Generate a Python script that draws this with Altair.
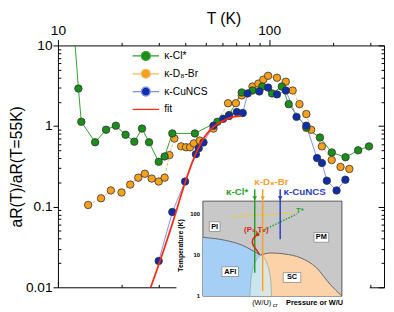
import altair as alt
import pandas as pd

FONT = "Liberation Sans"

# ---------------- main data: T (K) and a_R(T)/a_R(55K) ----------------
cl_T = [12.0, 12.5, 12.9, 15.0, 16.9, 18.8, 20.9, 23.0, 25.0, 27.0, 30.0, 32.0, 34.8, 44.5,
        56.9, 64.6, 74.2, 83.4, 92.8, 103.2, 114.8, 123.8, 150, 174, 198, 230, 264, 297]
cl_v = [12, 2.92, 1.13, 0.63, 0.90, 1.01, 0.78, 0.64, 0.93, 0.63, 0.36, 0.42, 0.81, 0.81,
        1.13, 1.37, 2.61, 2.76, 3.09, 2.54, 3.09, 1.87, 0.95, 0.72, 0.47, 0.41, 0.50, 0.56]

br_T = [13.9, 16.0, 17.8, 20.0, 22.0, 24.0, 25.8, 27.8, 30.0, 32.0, 33.7, 35.6, 38.3, 40.4,
        42.2, 44.0, 46.9, 54.5, 63.9, 69.6, 74.2, 83.4, 88.9, 93.8, 98.9, 108.9, 119.9,
        129.2, 139.2, 150, 158.1, 177.8, 197.8, 217.8, 239.8]
br_v = [0.105, 0.127, 0.159, 0.150, 0.188, 0.229, 0.256, 0.223, 0.205, 0.229, 0.436, 0.70,
        0.56, 0.545, 0.545, 0.61, 0.66, 0.93, 1.92, 1.92, 2.40, 3.09, 3.36, 3.76, 4.20, 3.97,
        3.55, 2.76, 1.87, 1.41, 0.90, 0.56, 0.379, 0.311, 0.294]

cu_T = [30.0, 34.8, 40.0, 45.0, 46.4, 48.9, 54.5, 60.6, 64.6, 70.3, 75.0, 79.1, 89.9, 98.9,
        108.9, 119.9, 134.8, 150, 168.6, 177.8, 187.6, 208.6, 229.6]
cu_v = [0.0212, 0.0859, 0.205, 0.448, 0.53, 0.627, 1.01, 1.23, 1.33, 1.49, 1.45, 2.54, 2.69,
        3.00, 2.47, 2.76, 1.30, 1.01, 0.401, 0.348, 0.210, 0.159, 0.216]

fit_T = [27.5, 31.0, 34.8, 39.6, 43.1, 46.4, 50.0, 54.5, 60.6, 67.4, 74.2]
fit_v = [0.01, 0.0244, 0.0615, 0.183, 0.348, 0.545, 0.762, 0.981, 1.16, 1.30, 1.33]

series_names = ["κ-Cl*", "κ-D₈-Br", "κ-CuNCS", "fit"]

x_ticks = [10, 20, 30, 40, 50, 60, 70, 80, 90, 100, 200, 300]
y_ticks = [0.01, 0.02, 0.03, 0.04, 0.05, 0.06, 0.07, 0.08, 0.09,
           0.1, 0.2, 0.3, 0.4, 0.5, 0.6, 0.7, 0.8, 0.9,
           1, 2, 3, 4, 5, 6, 7, 8, 9, 10]

# ---------------- inset (phase diagram) data ----------------
# p: pressure / (W/U) in relative units 0..1 ; t: temperature (K), log
afi_p = [0.0, 0.162, 0.282, 0.352, 0.415]
afi_t = [26.8, 22.7, 17.3, 13.1, 10.0]
sc_p = [0.415, 0.49, 0.585, 0.704, 0.817, 0.915, 1.0]
sc_t = [10.0, 11.2, 10.6, 8.5, 4.9, 1.93, 1.0]
co_p = [0.338, 0.343, 0.355, 0.375, 0.40, 0.415, 0.435, 0.46, 0.478, 0.49, 0.493]
co_t = [1.0, 2.0, 4.0, 6.5, 9.0, 9.8, 9.0, 6.5, 4.0, 2.0, 1.0]
red_p = [0.394, 0.359, 0.359, 0.387, 0.408]
red_t = [31.6, 23.7, 18.2, 13.1, 10.0]
tcoh_p = [0.204, 0.648]
tcoh_t = [84.9, 106]
tstar_p = [0.387, 0.676]
tstar_t = [33.4, 100]
arrow_p = [0.373, 0.43, 0.556]
arrow_top = [395, 395, 395]
arrow_bot = [3.7, 1.3, 24]
arrow_head = [240, 240, 240]
arrow_col = ["#2aa02a", "#f5a030", "#2b3fc8"]

kap_text = ["κ-Cl*", "κ-D₈-Br", "κ-CuNCS"]
kap_p = [0.246, 0.493, 0.732]
kap_t = [334, 578, 334]

box_text = ["PI", "PM", "AFI", "SC"]
box_p = [0.085, 0.852, 0.197, 0.641]
box_t = [49, 26.8, 3.94, 2.83]
box_half = [1.1, 1.5, 1.7, 1.8]

tick_text = ["100", "10", "1"]
tick_t = [100, 10, 1]

# ---------------- scales / axes ----------------
xs = alt.Scale(type="log", domain=[10, 350], nice=False)
ys = alt.Scale(type="log", domain=[0.01, 10], nice=False)
ixs = alt.Scale(domain=[0, 1], range=[148, 290], zero=False, nice=False)
iys = alt.Scale(type="log", domain=[1, 204], range=[256, 159], nice=False)

MAJ = "abs(log(datum.value)/LN10 - round(log(datum.value)/LN10)) < 0.000001"
LAB = f"({MAJ}) ? format(datum.value, '~g') : ''"


def ax(**kw):
    base = dict(grid=False, domainColor="black", tickColor="black", tickWidth=1,
                domainWidth=1, labelFont=FONT, labelFontSize=14, labelColor="black",
                titleFont=FONT, titleFontSize=16, titleFontWeight="normal",
                titleColor="black", labelOverlap=False, labelFlush=False)
    base.update(kw)
    return alt.Axis(**base)


top_axis = ax(orient="top", values=x_ticks, labelExpr=LAB,
              tickSize={"expr": f"({MAJ}) ? 6 : 3"}, labelPadding=2,
              title="T (K)", titleX=169, titleY=-27, titleBaseline="middle",
              titleAlign="center")
left_axis = ax(orient="left", values=y_ticks, labelExpr=LAB,
               tickSize={"expr": f"({MAJ}) ? 5 : -3"}, labelPadding=1,
               title="aR(T)/aR(T=55K)", titleX=-42, titleY=123.5, titleAngle=270,
               titleBaseline="middle", titleAlign="center")
bottom_axis = ax(orient="bottom", values=x_ticks, labels=False,
                 tickSize={"expr": f"({MAJ}) ? -6 : -3"}, title=None)
right_axis = ax(orient="right", values=y_ticks, labels=False,
                tickSize={"expr": f"({MAJ}) ? -6 : -3"}, title=None)

df_cl = pd.DataFrame({"T": cl_T, "v": cl_v})
df_br = pd.DataFrame({"T": br_T, "v": br_v})
df_cu = pd.DataFrame({"T": cu_T, "v": cu_v})
df_fit = pd.DataFrame({"T": fit_T, "v": fit_v})

G_FILL, O_FILL, B_FILL = "#1a8f1a", "#f7a01e", "#0d2eaa"
G_LINE, O_LINE, B_LINE = "#2ea02e", "#f5b65a", "#8090e6"
RED = "#ff2a14"


def enc(ch, xa=None, ya=None):
    return ch.encode(x=alt.X("T:Q", scale=xs, axis=xa), y=alt.Y("v:Q", scale=ys, axis=ya))


l_cl = enc(alt.Chart(df_cl).mark_line(color=G_LINE, strokeWidth=1, clip=True), top_axis, left_axis)
l_br = enc(alt.Chart(df_br).mark_line(color=O_LINE, strokeWidth=1, strokeDash=[3, 2], clip=True))
l_cu = enc(alt.Chart(df_cu).mark_line(color=B_LINE, strokeWidth=1, clip=True))


def pts(df, fill):
    return enc(alt.Chart(df).mark_point(shape="circle", filled=True, fill=fill, stroke="#333333",
                                        strokeWidth=0.8, size=58, opacity=1, clip=True))


p_br = pts(df_br, O_FILL)
p_cl = pts(df_cl, G_FILL)
p_cu = pts(df_cu, B_FILL)
l_fit = enc(alt.Chart(df_fit).mark_line(color=RED, strokeWidth=1.8, interpolate="monotone",
                                         clip=True), bottom_axis, right_axis)

# legend (symbols only, marks clipped away)
leg_paths = [
    "M-2,0H-0.67M0.67,0H2M0.67,0A0.67,0.67,0,1,1,-0.67,0A0.67,0.67,0,1,1,0.67,0Z",
    "M-2,0H-0.67M0.67,0H2M0.67,0A0.67,0.67,0,1,1,-0.67,0A0.67,0.67,0,1,1,0.67,0Z",
    "M-2,0H-0.67M0.67,0H2M0.67,0A0.67,0.67,0,1,1,-0.67,0A0.67,0.67,0,1,1,0.67,0Z",
    "M-2,0H2",
]
leg_fill = [G_FILL, O_FILL, B_FILL, RED]
leg_stroke = [G_LINE, O_LINE, B_LINE, RED]
df_leg = pd.DataFrame({"T": [1, 1, 1, 1], "v": [1, 1, 1, 1], "series": series_names})


def L():
    return alt.Legend(title=None, orient="none", legendX=82.25, legendY=3.25, symbolSize=182,
                      symbolStrokeWidth=1.3, symbolOpacity=1, labelFont=FONT, labelFontSize=10.5,
                      labelColor="black", labelOffset=11.25, rowPadding=3.2, padding=0,
                      labelLimit=200)


leg = alt.Chart(df_leg).mark_point(filled=True, size=182, opacity=1, clip=True).encode(
    x=alt.X("T:Q", scale=xs, axis=None),
    y=alt.Y("v:Q", scale=ys, axis=None),
    shape=alt.Shape("series:N", scale=alt.Scale(domain=series_names, range=leg_paths), legend=L()),
    color=alt.Color("series:N", scale=alt.Scale(domain=series_names, range=leg_fill), legend=L()),
    stroke=alt.Stroke("series:N", scale=alt.Scale(domain=series_names, range=leg_stroke), legend=L()),
)

main = alt.layer(l_cl, l_br, l_cu, p_br, p_cl, p_cu, l_fit, leg).resolve_axis(
    x="independent", y="independent")

# ---------------- inset ----------------
def ienc(ch, **kw):
    return ch.encode(x=alt.X("p:Q", scale=ixs, axis=None), y=alt.Y("t:Q", scale=iys, axis=None), **kw)


bg = ienc(alt.Chart(pd.DataFrame({"p": [-0.19], "p2": [1.2], "t": [0.45], "t2": [900]}))
          .mark_rect(fill="white"), x2="p2", y2="t2")
frame = ienc(alt.Chart(pd.DataFrame({"p": [0], "p2": [1], "t": [1], "t2": [204]}))
             .mark_rect(fill="#c8c8c8", stroke="#333333", strokeWidth=0.8), x2="p2", y2="t2")
df_afi = pd.DataFrame({"p": afi_p, "t": afi_t})
df_sc = pd.DataFrame({"p": sc_p, "t": sc_t})
df_co = pd.DataFrame({"p": co_p, "t": co_t})
a_afi = ienc(alt.Chart(df_afi).mark_area(fill="#a6cff5", interpolate="monotone"), y2=alt.datum(1))
a_sc = ienc(alt.Chart(df_sc).mark_area(fill="#fcd3a8", interpolate="monotone"), y2=alt.datum(1))
a_co = ienc(alt.Chart(df_co).mark_area(fill="#d3ecee", opacity=0.75, interpolate="monotone"),
            y2=alt.datum(1))
b_afi = ienc(alt.Chart(df_afi).mark_line(color="#666666", strokeWidth=1, interpolate="monotone"))
b_sc = ienc(alt.Chart(df_sc).mark_line(color="#666666", strokeWidth=1, interpolate="monotone"))
b_co = ienc(alt.Chart(df_co).mark_line(color="#8aa8b0", strokeWidth=0.8, interpolate="monotone"))

df_tcoh = pd.DataFrame({"p": tcoh_p, "t": tcoh_t})
df_tstar = pd.DataFrame({"p": tstar_p, "t": tstar_t})
l_tcoh = ienc(alt.Chart(df_tcoh).mark_line(color="#f0cc10", strokeWidth=1.5, strokeDash=[1.5, 1.5]))
l_tstar = ienc(alt.Chart(df_tstar).mark_line(color="#2aa02a", strokeWidth=1.5, strokeDash=[1.5, 1.5]))

df_arrow = pd.DataFrame({"p": arrow_p, "t": arrow_top, "t2": arrow_bot, "h": arrow_head,
                         "c": arrow_col})
rules = ienc(alt.Chart(df_arrow).mark_rule(strokeWidth=1.5), y2="t2",
             color=alt.Color("c:N", scale=None))
heads = alt.Chart(df_arrow).mark_point(shape="triangle-down", filled=True, size=22, opacity=1).encode(
    x=alt.X("p:Q", scale=ixs, axis=None), y=alt.Y("h:Q", scale=iys, axis=None),
    color=alt.Color("c:N", scale=None))

df_red = pd.DataFrame({"p": red_p, "t": red_t, "o": list(range(len(red_p)))})
l_red = ienc(alt.Chart(df_red).mark_line(color="#d42a10", strokeWidth=1.5, interpolate="catmull-rom"),
             order="o:Q")
d_red = ienc(alt.Chart(df_red.head(1)).mark_circle(color="#d42a10", size=14, opacity=1))

df_kap = pd.DataFrame({"p": kap_p, "t": kap_t, "txt": kap_text, "c": arrow_col})
t_kap = ienc(alt.Chart(df_kap).mark_text(font=FONT, fontSize=10, fontWeight="bold"),
             text="txt:N", color=alt.Color("c:N", scale=None))

df_box = pd.DataFrame({"p": box_p, "t": box_t, "txt": box_text,
                       "shp": [f"M-{h},-1H{h}V1H-{h}Z" for h in box_half]})
boxes = ienc(alt.Chart(df_box).mark_point(filled=True, fill="white", stroke="#8a8a8a",
                                          strokeWidth=0.8, size=100, opacity=1),
             shape=alt.Shape("shp:N", scale=None))
t_box = ienc(alt.Chart(df_box).mark_text(font=FONT, fontSize=7.5, fontWeight="bold", color="black"),
             text="txt:N")

df_misc = pd.DataFrame({"p": [0.384, 0.697], "t": [40.5, 118], "txt": ["(P₀,T₀)", "T*"],
                        "c": ["#d42a10", "#2aa02a"]})
t_misc = ienc(alt.Chart(df_misc).mark_text(font=FONT, fontSize=8, fontWeight="bold"),
              text="txt:N", color=alt.Color("c:N", scale=None))

df_itk = pd.DataFrame({"p": [-0.02, -0.02, -0.02], "t": tick_t, "txt": tick_text})
t_itk = ienc(alt.Chart(df_itk).mark_text(font=FONT, fontSize=6, fontWeight="bold", align="right",
                                         color="black"), text="txt:N")

df_ytl = pd.DataFrame({"p": [-0.155], "t": [17], "txt": ["Temperature (K)"]})
t_ytl = ienc(alt.Chart(df_ytl).mark_text(font=FONT, fontSize=7, fontWeight="bold", angle=270,
                                         color="black"), text="txt:N")

df_xtl = pd.DataFrame({"p": [0.803], "t": [0.68], "txt": ["Pressure or W/U"]})
t_xtl = ienc(alt.Chart(df_xtl).mark_text(font=FONT, fontSize=7.5, fontWeight="bold", color="black"),
             text="txt:N")
df_wu = pd.DataFrame({"p": [0.423], "t": [0.68], "txt": ["(W/U)"]})
t_wu = ienc(alt.Chart(df_wu).mark_text(font=FONT, fontSize=7.5, color="black"), text="txt:N")
df_cr = pd.DataFrame({"p": [0.52], "t": [0.6], "txt": ["cr"]})
t_cr = ienc(alt.Chart(df_cr).mark_text(font=FONT, fontSize=6, color="black"), text="txt:N")

inset = alt.layer(bg, frame, a_afi, a_sc, a_co, b_afi, b_sc, b_co, l_tcoh, l_tstar, rules, heads,
                  l_red, d_red, t_kap, boxes, t_box, t_misc, t_itk, t_ytl, t_xtl, t_wu, t_cr)

chart = alt.layer(inset, main).resolve_scale(x="independent", y="independent").properties(
    width=333, height=247,
    padding={"left": 51, "top": 35, "right": 2, "bottom": 22},
    autosize=alt.AutoSizeParams(type="none"),
).configure_view(stroke=None)

chart.save("out.html", embed_options={"renderer": "svg", "actions": False})
